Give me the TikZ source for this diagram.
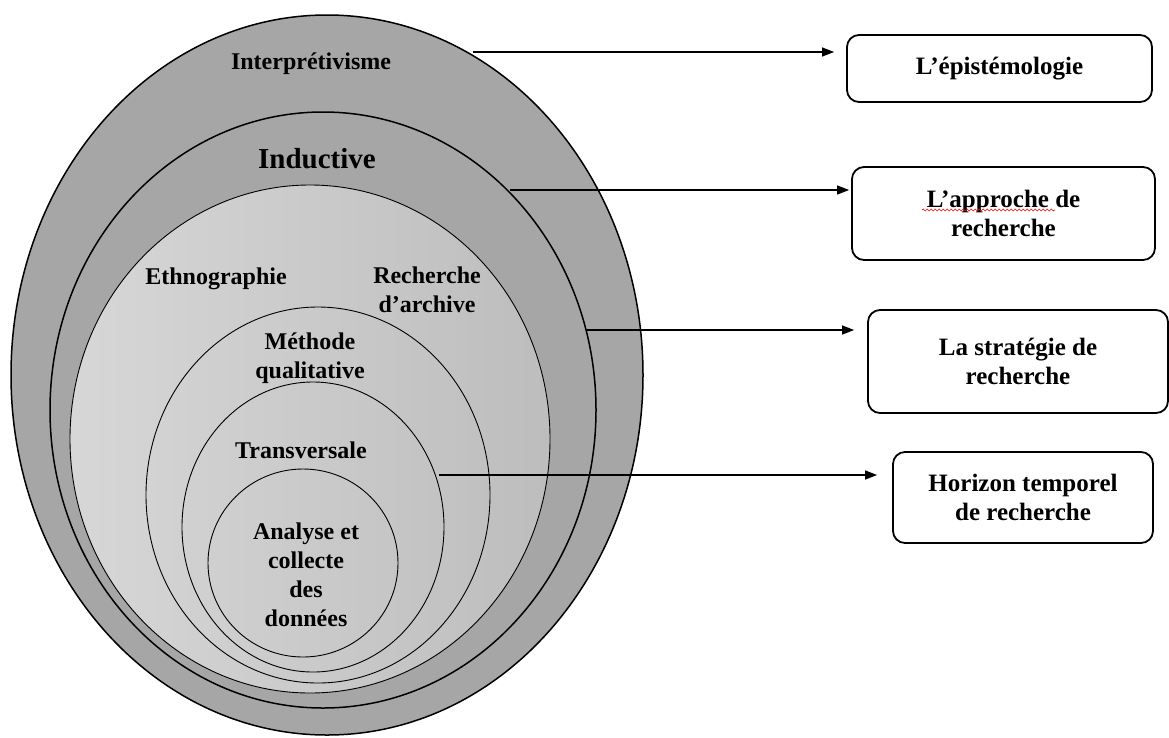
\documentclass[tikz,border=0pt]{standalone}
\usepackage{fontspec}
\setmainfont{Liberation Serif}
\usetikzlibrary{arrows.meta,decorations.pathmorphing}

\definecolor{bandgray}{HTML}{A6A6A6}
\definecolor{lightL}{HTML}{D7D7D7}
\definecolor{lightR}{HTML}{BDBDBD}

\tikzset{
  thickring/.style={draw=black, line width=1.5pt},
  thinring/.style={draw=black, line width=0.9pt},
  lbl/.style={font=\fontsize{24}{29}\selectfont\bfseries, align=center, inner sep=0pt},
  biglbl/.style={font=\fontsize{29}{34}\selectfont\bfseries, align=center, inner sep=0pt},
  levelbox/.style={draw=black, line width=1.8pt, rounded corners=12pt, fill=white,
    font=\fontsize{25}{29}\selectfont\bfseries, align=center, inner sep=0pt},
  link/.style={line width=1.2pt, -{Triangle[length=12pt,width=9pt]}}
}

\begin{document}
\begin{tikzpicture}[x=1pt,y=-1pt]
  \useasboundingbox[fill=white] (0,0) rectangle (1169,737);

  % nested layers of the research onion
  \fill[bandgray] (327,375) ellipse [x radius=316, y radius=360];
  \draw[thickring] (327,375) ellipse [x radius=316, y radius=360];
  \draw[thickring] (323,410) ellipse [x radius=273, y radius=298];
  \shade[left color=lightL, right color=lightR] (310,439) ellipse [x radius=240, y radius=254];
  \draw[thinring] (310,439) ellipse [x radius=240, y radius=254];
  \draw[thinring] (318,495) ellipse [x radius=172, y radius=188];
  \draw[thinring] (313,527) ellipse [x radius=131, y radius=145];
  \draw[thinring] (303,563) ellipse [x radius=95, y radius=94];

  % layer labels
  \node[lbl] (interp) at (311,64) {Interprétivisme};
  \node[biglbl] (induc) at (317,159) {Inductive};
  \node[lbl] (ethno) at (216,279) {Ethnographie};
  \node[lbl] (archive) at (427,290) {Recherche\\d’archive};
  \node[lbl] (methode) at (310,358) {Méthode\\qualitative};
  \node[lbl] (transv) at (301,450) {Transversale};
  \node[lbl] (analyse) at (306,575) {Analyse et\\collecte\\des\\données};

  % level boxes
  \node[levelbox, minimum width=305pt, minimum height=67pt] (b1) at (999.5,68.5) {L’épistémologie};
  \node[levelbox, minimum width=303pt, minimum height=93pt] (b2) at (1003.5,213.5) {L’approche de\\recherche};
  \node[levelbox, minimum width=300pt, minimum height=103pt] (b3) at (1018,361.5) {La stratégie de\\recherche};
  \node[levelbox, minimum width=260pt, minimum height=91pt] (b4) at (1023,497.5) {Horizon temporel\\de recherche};

  % spell-check squiggle
  \draw[red, line width=0.6pt, decorate, decoration={snake, amplitude=1pt, segment length=4pt}]
    (922,210) -- (1055,210);

  % arrows from each layer to its box
  \coordinate (s1) at (473,52);
  \coordinate (s2) at (510,190);
  \coordinate (s3) at (587,330);
  \coordinate (s4) at (439,475);
  \draw[link, shorten >=12pt] (s1) -- (s1 -| b1.west);
  \draw[link, shorten >=2pt] (s2) -- (s2 -| b2.west);
  \draw[link, shorten >=13pt] (s3) -- (s3 -| b3.west);
  \draw[link, shorten >=15pt] (s4) -- (s4 -| b4.west);
\end{tikzpicture}
\end{document}
